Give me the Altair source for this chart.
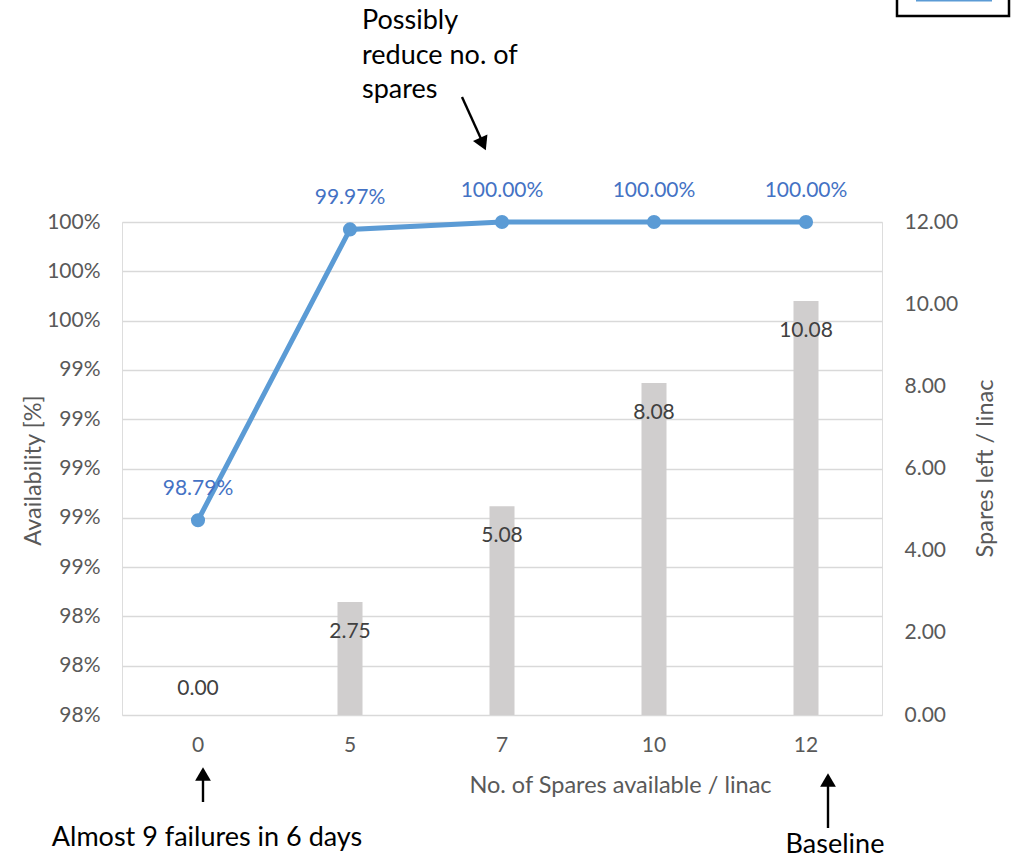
import altair as alt
import pandas as pd

# ---- data ----
categories = ["0", "5", "7", "10", "12"]
availability = [0.9879, 0.9997, 1.0, 1.0, 1.0]
spares_left = [0.0, 2.75, 5.08, 8.08, 10.08]
avail_ticks = [0.98, 0.982, 0.984, 0.986, 0.988, 0.99, 0.992, 0.994, 0.996, 0.998, 1.0]
spares_ticks = [0, 2, 4, 6, 8, 10, 12]

df = pd.DataFrame({"cat": categories, "avail": availability, "spares": spares_left})

FONT = "Lato"
GREY_TXT = "#595959"
W, H = 760, 493
TICK_FS = 21
TITLE_FS = 23.5
LABEL_FS = 21
NOTE_FS = 27

x_enc = alt.X(
    "cat:N", sort=categories,
    scale=alt.Scale(paddingInner=0, paddingOuter=0),
    axis=alt.Axis(
        title="No. of Spares available / linac", labelAngle=0, ticks=False, domain=False,
        labelPadding=19, labelFontSize=TICK_FS, titleFontSize=TITLE_FS, titleFontWeight="normal",
        labelFont=FONT, titleFont=FONT, labelColor=GREY_TXT, titleColor=GREY_TXT,
        titleX=498, titleY=70, titleAlign="center", titleBaseline="middle",
    ),
)

y_right = alt.Y(
    "spares:Q", scale=alt.Scale(domain=[0, 12], nice=False, zero=True),
    axis=alt.Axis(
        orient="right", values=spares_ticks, format=".2f", grid=False, ticks=False, domain=False,
        labelPadding=22, labelFontSize=TICK_FS, title="Spares left / linac", titleFontSize=TITLE_FS,
        labelFont=FONT, titleFont=FONT, labelColor=GREY_TXT, titleColor=GREY_TXT,
        titleFontWeight="normal", titleAngle=270, titleX=103, titleY=246,
        titleAlign="center", titleBaseline="middle",
    ),
)

y_left = alt.Y(
    "avail:Q", scale=alt.Scale(domain=[0.98, 1.0], nice=False, zero=False),
    axis=alt.Axis(
        orient="left", values=avail_ticks, format=".0%", grid=True, gridColor="#D9D9D9",
        gridWidth=1.3, ticks=False, domain=False, labelPadding=22, labelFontSize=TICK_FS,
        labelFont=FONT, titleFont=FONT, labelColor=GREY_TXT, titleColor=GREY_TXT,
        title="Availability [%]", titleFontSize=TITLE_FS, titleFontWeight="normal",
        titleX=-89, titleY=248, titleAlign="center", titleBaseline="middle",
    ),
)

base = alt.Chart(df)

bars = base.mark_bar(size=25, color="#D0CECE").encode(x=x_enc, y=y_right)
bar_labels = base.transform_filter("datum.spares > 0").mark_text(
    dy=30, fontSize=LABEL_FS, color="#404040", font=FONT, baseline="middle"
).encode(x=x_enc, y=y_right, text=alt.Text("spares:Q", format=".2f"))
bar_labels0 = base.transform_filter("datum.spares == 0").mark_text(
    dy=-26, fontSize=LABEL_FS, color="#404040", font=FONT, baseline="middle"
).encode(x=x_enc, y=y_right, text=alt.Text("spares:Q", format=".2f"))

right_group = alt.layer(bars, bar_labels, bar_labels0)

line = base.mark_line(color="#5B9BD5", strokeWidth=5).encode(x=x_enc, y=y_left)
pts = base.mark_point(filled=True, size=200, color="#5B9BD5", opacity=1).encode(x=x_enc, y=y_left)
line_labels = base.mark_text(
    dy=-31, fontSize=LABEL_FS, color="#4472C4", font=FONT, baseline="middle"
).encode(x=x_enc, y=y_left, text=alt.Text("avail:Q", format=".2%"))

left_group = alt.layer(line, pts, line_labels)

one = pd.DataFrame({"k": [0]})

# ---- annotations (pixel positions relative to the plot origin) ----
note_top = alt.Chart(one).mark_text(
    align="left", baseline="top", fontSize=NOTE_FS, lineHeight=34.5, font=FONT, color="black"
).encode(x=alt.value(240), y=alt.value(-214),
         text=alt.value(["Possibly", "reduce no. of", "spares"]))
arrow_top = alt.Chart(one).mark_rule(color="black", strokeWidth=2.4).encode(
    x=alt.value(340), y=alt.value(-125), x2=alt.value(360), y2=alt.value(-81))
head_top = alt.Chart(one).mark_point(
    shape="triangle-down", filled=True, size=250, color="black", angle=336, opacity=1
).encode(x=alt.value(361), y=alt.value(-78))

note_left = alt.Chart(one).mark_text(
    align="center", baseline="middle", fontSize=NOTE_FS, font=FONT, color="black"
).encode(x=alt.value(85), y=alt.value(616), text=alt.value("Almost 9 failures in 6 days"))
arrow_left = alt.Chart(one).mark_rule(color="black", strokeWidth=2.4).encode(
    x=alt.value(81), y=alt.value(580), y2=alt.value(553))
head_left = alt.Chart(one).mark_point(
    shape="triangle-up", filled=True, size=250, color="black", opacity=1
).encode(x=alt.value(81), y=alt.value(552))

note_right = alt.Chart(one).mark_text(
    align="center", baseline="middle", fontSize=NOTE_FS, font=FONT, color="black"
).encode(x=alt.value(713), y=alt.value(623), text=alt.value("Baseline"))
arrow_right = alt.Chart(one).mark_rule(color="black", strokeWidth=2.4).encode(
    x=alt.value(706), y=alt.value(606), y2=alt.value(560))
head_right = alt.Chart(one).mark_point(
    shape="triangle-up", filled=True, size=250, color="black", opacity=1
).encode(x=alt.value(706), y=alt.value(558))

legend_box = alt.Chart(one).mark_rect(
    fill="white", stroke="black", strokeWidth=2.5
).encode(x=alt.value(775), x2=alt.value(887), y=alt.value(-235), y2=alt.value(-206))
legend_line = alt.Chart(one).mark_rule(color="#5B9BD5", strokeWidth=3).encode(
    x=alt.value(794), x2=alt.value(870), y=alt.value(-222))

chart = alt.layer(
    right_group, left_group,
    note_top, arrow_top, head_top,
    note_left, arrow_left, head_left,
    note_right, arrow_right, head_right,
    legend_box, legend_line,
).resolve_scale(y="independent").properties(
    width=W, height=H,
    autosize=alt.AutoSizeParams(type="none"),
    padding={"left": 122, "top": 222, "right": 130, "bottom": 143},
).configure_view(stroke=None).configure_axis(
    labelFont=FONT, titleFont=FONT, labelColor=GREY_TXT, titleColor=GREY_TXT
).configure(background="white")

chart.save("out.html", embed_options={"renderer": "svg", "actions": False})
